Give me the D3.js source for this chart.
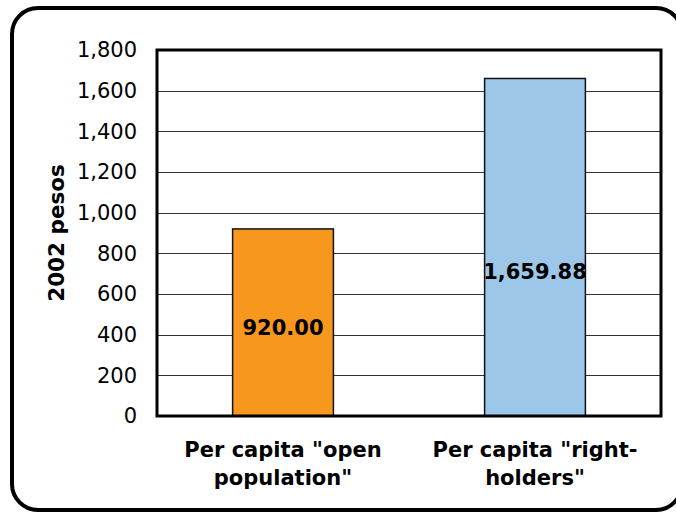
<!DOCTYPE html>
<meta charset="utf-8">
<head>
<style>
  body { margin: 0; background: #fff; font-family: 'DejaVu Sans', Verdana, sans-serif; }
  svg { display: block; }
</style>
</head>
<body>
<div id="chart"></div>
<script src="https://cdn.jsdelivr.net/npm/d3@7"></script>
<script>

// data
var categories = [["Per capita \"open", "population\""], ["Per capita \"right-", "holders\""]];
var values = [920.00, 1659.88];
var labels = ["920.00", "1,659.88"];
var colors = ["#F7971E", "#9DC7E9"];
var ticks = [0, 200, 400, 600, 800, 1000, 1200, 1400, 1600, 1800];

var W = 676, H = 518;
var margin = {top: 50, right: 15, bottom: 102, left: 157},
  width = 661 - margin.left,
  height = 416 - margin.top;

var svg = d3.select("#chart").append("svg")
  .attr("width", W)
  .attr("height", H);

// outer rounded frame
svg.append("rect")
  .attr("x", 12).attr("y", 8)
  .attr("width", 670).attr("height", 502)
  .attr("rx", 26).attr("ry", 26)
  .style("fill", "none")
  .style("stroke", "#000")
  .style("stroke-width", 4);

var g = svg.append("g")
  .attr("transform", "translate(" + margin.left + "," + margin.top + ")");

var x = d3.scaleBand()
  .domain(d3.range(values.length))
  .range([0, width])
  .paddingInner(0.6)
  .paddingOuter(0.3);

var y = d3.scaleLinear()
  .domain([0, 1800])
  .range([height, 0]);

// gridlines
g.selectAll(".grid")
  .data(ticks.slice(1))
  .enter().append("line")
    .attr("x1", 0).attr("x2", width)
    .attr("y1", function(d) { return Math.round(y(d)) + 0.5 })
    .attr("y2", function(d) { return Math.round(y(d)) + 0.5 })
    .style("stroke", "#333")
    .style("stroke-width", 1);

// bars
g.selectAll(".bar")
  .data(values)
  .enter().append("rect")
    .attr("x", function(d, i) { return x(i) })
    .attr("y", function(d) { return y(d) })
    .attr("width", x.bandwidth())
    .attr("height", function(d) { return height - y(d) })
    .style("fill", function(d, i) { return colors[i] })
    .style("stroke", "#111")
    .style("stroke-width", 1.5);

// plot frame
g.append("rect")
  .attr("x", 0).attr("y", 0)
  .attr("width", width).attr("height", height)
  .style("fill", "none")
  .style("stroke", "#000")
  .style("stroke-width", 3);

// y axis tick labels
var yAxis = g.append("g")
  .call(d3.axisLeft(y).tickValues(ticks).tickSize(0).tickPadding(20).tickFormat(d3.format(",")));
yAxis.select(".domain").remove();
yAxis.selectAll("text")
  .style("font-family", "'DejaVu Sans', Verdana, sans-serif")
  .style("font-size", "21px")
  .style("fill", "#000");

// value labels
var labelPos = [433, 708];
g.selectAll(".vlabel")
  .data(values)
  .enter().append("text")
    .attr("x", function(d, i) { return x(i) + x.bandwidth() / 2 })
    .attr("y", function(d, i) { return y(labelPos[i]) })
    .attr("text-anchor", "middle")
    .attr("dy", "0.35em")
    .style("font-size", "21px")
    .style("font-weight", "bold")
    .text(function(d, i) { return labels[i] });

// category labels
categories.forEach(function(lines, i) {
  var t = g.append("text")
    .attr("x", x(i) + x.bandwidth() / 2)
    .attr("y", height + 41)
    .attr("text-anchor", "middle")
    .style("font-size", "21px")
    .style("font-weight", "bold");
  lines.forEach(function(s, j) {
    t.append("tspan")
      .attr("x", x(i) + x.bandwidth() / 2)
      .attr("dy", j ? 28 : 0)
      .text(s);
  });
});

// y axis title
svg.append("text")
  .attr("transform", "translate(64,233) rotate(-90)")
  .attr("text-anchor", "middle")
  .style("font-size", "21.5px")
  .style("font-weight", "bold")
  .text("2002 pesos");

</script>
</body>
